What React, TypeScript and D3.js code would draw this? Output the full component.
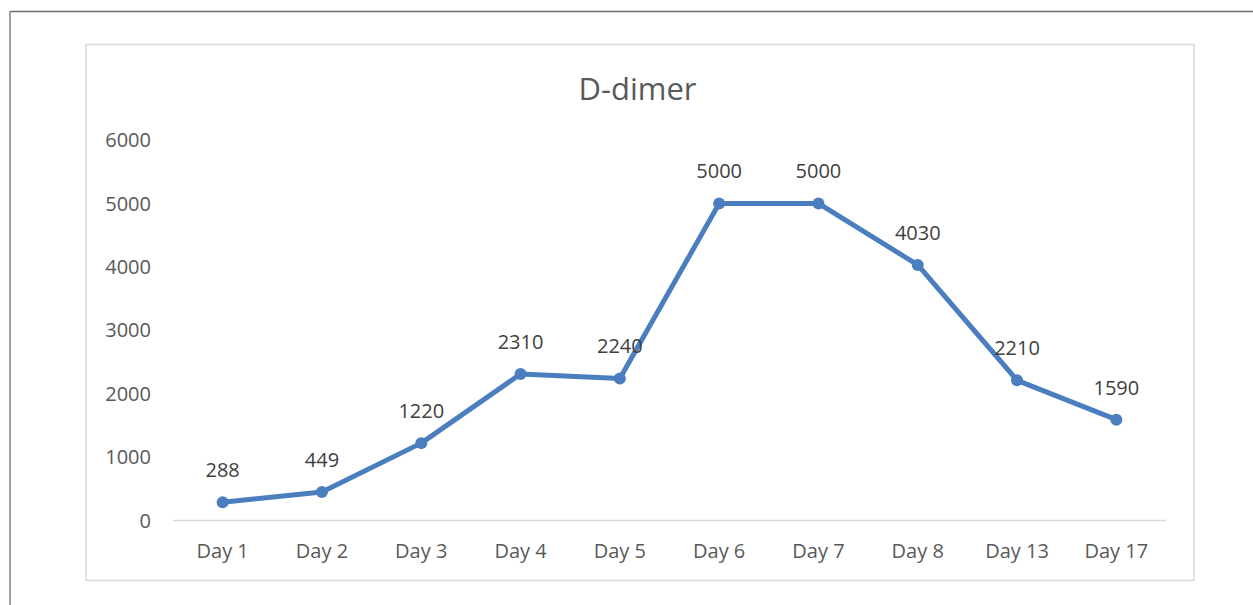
import * as d3 from "d3";

const days = ["Day 1", "Day 2", "Day 3", "Day 4", "Day 5", "Day 6", "Day 7", "Day 8", "Day 13", "Day 17"];
const dimer = [288, 449, 1220, 2310, 2240, 5000, 5000, 4030, 2210, 1590];
const yTicks = [0, 1000, 2000, 3000, 4000, 5000, 6000];
const title = "D-dimer";

export default function App() {
  const width = 1253;
  const height = 605;
  const font = "'Open Sans', 'Noto Sans', sans-serif";
  const textColor = "#595959";
  const lineColor = "#4a7ebf";

  const x = d3.scaleBand().domain(days).range([173, 1166]);
  const y = d3.scaleLinear().domain([0, 6000]).range([520.5, 140]);
  const cx = (d: string) => (x(d) ?? 0) + x.bandwidth() / 2;

  const line = d3
    .line<number>()
    .x((_, i) => cx(days[i]))
    .y((d) => y(d));

  return (
    <svg
      width={width}
      height={height}
      style={{ position: "absolute", left: 0, top: 0, background: "#fff" }}
      fontFamily={font}
    >
      {/* outer frame: only top and left edges show */}
      <line x1={10} y1={11.5} x2={width} y2={11.5} stroke="#6b6b6b" strokeWidth={1.6} />
      <line x1={10} y1={11.5} x2={10} y2={height} stroke="#8a8a8a" strokeWidth={1.6} />

      {/* chart area */}
      <rect x={86} y={44.5} width={1108} height={536} fill="#fff" stroke="#d9d9d9" strokeWidth={1.5} />

      <text x={637.5} y={100} textAnchor="middle" fontSize={31} fill={textColor}>
        {title}
      </text>

      {/* y axis labels */}
      {yTicks.map((t) => (
        <text key={t} x={151} y={y(t)} dy="0.36em" textAnchor="end" fontSize={20} fill={textColor}>
          {t}
        </text>
      ))}

      {/* baseline */}
      <line x1={173} x2={1166} y1={y(0)} y2={y(0)} stroke="#d9d9d9" strokeWidth={1.5} />

      {/* x axis labels */}
      {days.map((d) => (
        <text key={d} x={cx(d)} y={558} textAnchor="middle" fontSize={20} fill={textColor}>
          {d}
        </text>
      ))}

      <path d={line(dimer) ?? ""} fill="none" stroke={lineColor} strokeWidth={5} strokeLinejoin="round" />
      {dimer.map((v, i) => (
        <circle key={i} cx={cx(days[i])} cy={y(v)} r={6} fill={lineColor} />
      ))}

      {/* data labels */}
      {dimer.map((v, i) => (
        <text key={"l" + i} x={cx(days[i])} y={y(v) - 25} textAnchor="middle" fontSize={20} fill="#404040">
          {v}
        </text>
      ))}
    </svg>
  );
}
